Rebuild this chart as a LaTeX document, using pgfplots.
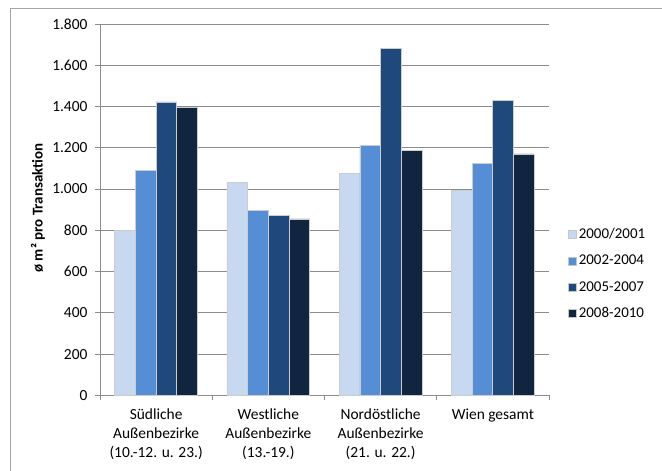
\documentclass[border=0pt]{standalone}
\usepackage{pgfplots}
\pgfplotsset{compat=1.18}
\usepackage{fontspec}
\setmainfont{Carlito}
\definecolor{cA}{HTML}{C6D9F1}
\definecolor{cB}{HTML}{558ED5}
\definecolor{cC}{HTML}{1F497D}
\definecolor{cD}{HTML}{12253F}
\definecolor{gridc}{HTML}{8C8C8C}
\definecolor{framec}{HTML}{A6A6A6}
\begin{document}
\begin{tikzpicture}
\path[use as bounding box] (-100bp,-75.7bp) rectangle (562bp,395.3bp);
\draw[framec, line width=0.8bp] (-90bp,-90bp) -- (-90bp,387.3bp) -- (580bp,387.3bp);
\begin{axis}[
  at={(0,0)}, anchor=south west,
  scale only axis,
  width=449bp, height=371.3bp,
  ybar=0pt, bar width=20.7bp,
  xmin=-0.5, xmax=3.5,
  ymin=0, ymax=1800,
  ytick={0,200,...,1800},
  xtick={0,1,2,3},
  xticklabels={{Südliche\\Außenbezirke\\(10.-12. u. 23.)},{Westliche\\Außenbezirke\\(13.-19.)},{Nordöstliche\\Außenbezirke\\(21. u. 22.)},{Wien gesamt}},
  major x tick style={draw=none},
  minor xtick={-0.5,0.5,1.5,2.5,3.5},
  minor x tick style={draw=gridc, line width=0.8bp},
  minor tick length=5bp,
  major tick length=5bp,
  tick align=outside,
  ytick style={draw=gridc, line width=0.8bp},
  ymajorgrids,
  grid style={gridc, line width=0.8bp},
  axis x line*=bottom, axis y line*=left,
  axis line style={gridc, line width=0.8bp, -},
  x axis line style={line width=1.2bp},
  tick label style={font=\fontsize{15.5}{19}\selectfont, text=black},
  xticklabel style={align=center, yshift=-5bp},
  yticklabel style={xshift=-4bp},
  /pgf/number format/.cd, 1000 sep={.}, assume math mode=true,
  /pgfplots/.cd,
  ylabel={ø m² pro Transaktion},
  ylabel style={font=\fontsize{15}{17}\selectfont\bfseries, at={(axis description cs:-0.138,0.504)}, anchor=center},
  legend style={at={(1,0.327)}, anchor=west, xshift=19bp, draw=none, fill=none,
    font=\fontsize{15}{17}\selectfont, row sep=11bp, inner sep=0pt,
    /tikz/every even column/.append style={column sep=3bp}},
  legend cell align=left,
  legend image code/.code={\draw[#1, draw=gray!45, line width=0.6bp] (0bp,-4bp) rectangle (8bp,4bp);},
  every axis plot/.append style={draw=gray!40, line width=0.8bp},
]
\addplot[fill=cA] coordinates {(0,797) (1,1033) (2,1075) (3,994)};
\addplot[fill=cB] coordinates {(0,1088) (1,897) (2,1212) (3,1123)};
\addplot[fill=cC] coordinates {(0,1422) (1,873) (2,1680) (3,1428)};
\addplot[fill=cD] coordinates {(0,1395) (1,855) (2,1185) (3,1170)};
\legend{2000/2001,2002-2004,2005-2007,2008-2010}
\end{axis}
\end{tikzpicture}
\end{document}
